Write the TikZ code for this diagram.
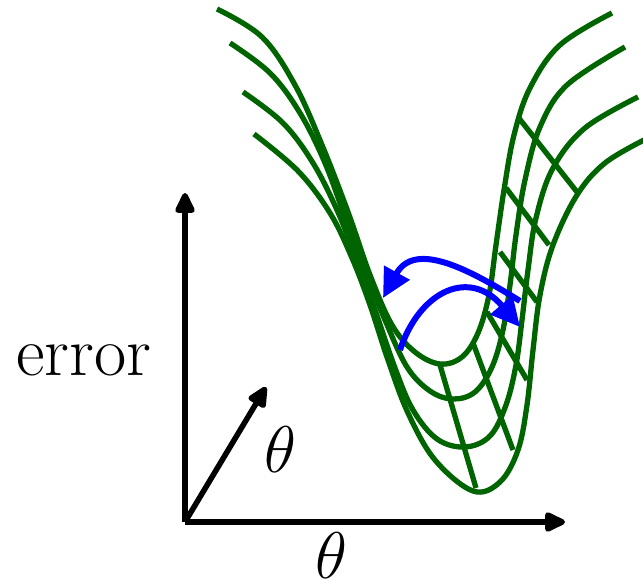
\RequirePackage{fix-cm}
\documentclass[tikz,border=0pt]{standalone}
\usetikzlibrary{arrows.meta}
\definecolor{surf}{RGB}{0,100,0}
\begin{document}
\begin{tikzpicture}[x=1pt,y=-1pt,
  axis/.style={line width=5.5pt,-{Triangle[length=24pt,width=21pt,round]}},
  surfline/.style={draw=surf,line width=5.3pt},
  move/.style={draw=blue,line width=6pt,-{Triangle[length=29pt,width=28pt]}},
  lbl/.style={font=\fontsize{66}{70}\selectfont,inner sep=0pt,anchor=base}]
\useasboundingbox (0,0) rectangle (643,580);

% error surface: four level curves
\draw[surfline] plot[smooth,tension=0.6] coordinates {(217,9)(262,37)(295,85)(322,145)(348,212)(370,275)(392,325)(415,352)(440,364)(462,357)(478,333)(489,295)(496,245)(504,190)(514,135)(530,88)(560,45)(612,13)};
\draw[surfline] plot[smooth,tension=0.6] coordinates {(230,43)(270,73)(300,113)(325,163)(346,220)(365,270)(385,320)(407,367)(430,391)(453,399)(475,392)(492,367)(503,330)(510,285)(516,235)(525,180)(540,127)(567,85)(625,47)};
\draw[surfline] plot[smooth,tension=0.6] coordinates {(243,92)(283,123)(313,163)(337,210)(356,258)(375,310)(395,368)(413,410)(437,439)(465,447)(490,436)(506,405)(516,365)(522,320)(528,270)(536,218)(553,168)(585,128)(638,97)};
\draw[surfline] plot[smooth,tension=0.6] coordinates {(254,134)(298,171)(330,213)(352,258)(370,305)(388,360)(408,413)(435,460)(473,491)(500,482)(518,450)(527,405)(533,350)(540,295)(553,245)(577,195)(605,163)(646,139)};

% cross lines
\draw[surfline] (518,117) -- (577,192);
\draw[surfline] (506,188) -- (549,245);
\draw[surfline] (500,252) -- (537,302);
\draw[surfline] (487,312) -- (527,380);
\draw[surfline] (473,343) -- (513,450);
\draw[surfline] (440,365) -- (476,488);

% blue moves
\coordinate (a1s) at (520,301);
\coordinate (a1e) at (383,298);
\coordinate (a2s) at (400,350);
\coordinate (a2e) at (520,327);
\draw[move] (a1s) .. controls (470,270) and (415,240) .. (a1e);
\draw[move] (a2s) .. controls (420,290) and (470,268) .. (a2e);

% axes
\coordinate (O) at (185,522);
\coordinate (Y) at (185,193);
\coordinate (X) at (565,522);
\coordinate (D) at (266,387);
\draw[axis] (O) -- (Y);
\draw[axis] (O) -- (X);
\draw[axis] (O) -- (D);

% labels
\node[lbl,font=\fontsize{70}{74}\selectfont] (err) at (84,375) {error};
\node[lbl] (th1) at (280,472) {$\theta$};
\node[lbl] (th2) at (331,578) {$\theta$};
\end{tikzpicture}
\end{document}
